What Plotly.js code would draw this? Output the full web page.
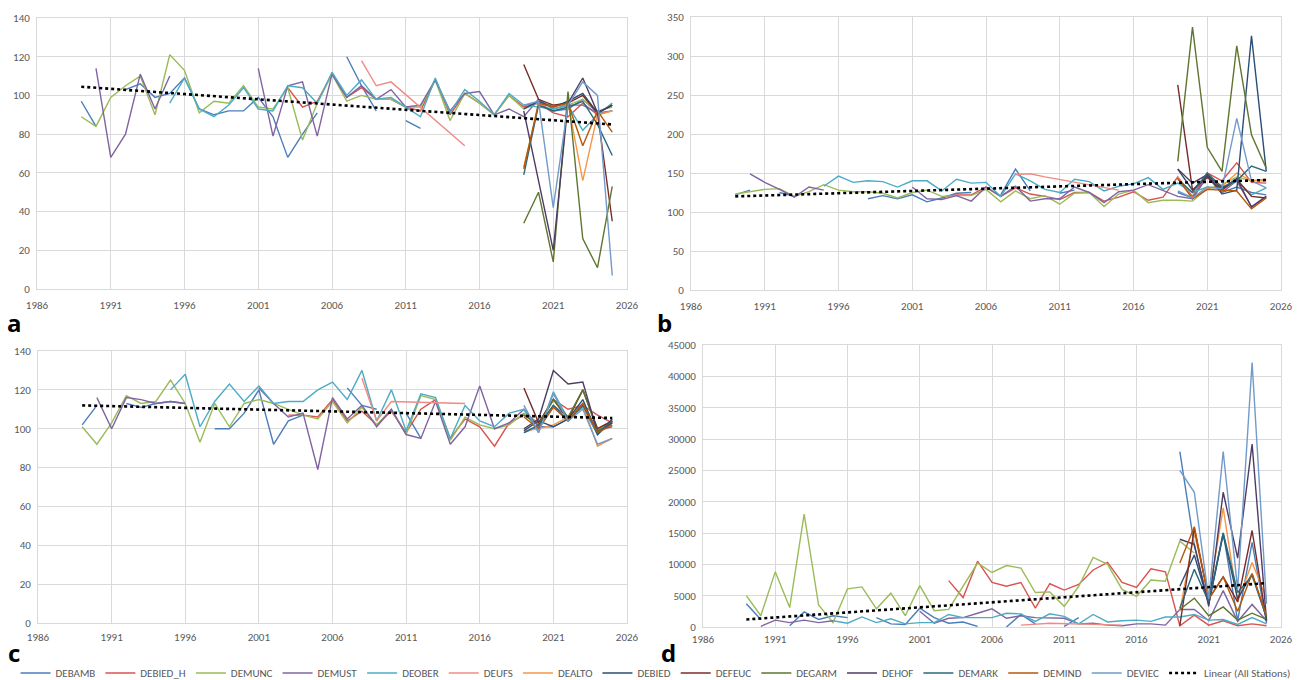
<!DOCTYPE html>
<html>
<head>
<meta charset="utf-8">
<script src="https://cdn.plot.ly/plotly-3.0.1.min.js"></script>
<style>html,body{margin:0;padding:0;background:#fff;}#chart{width:1297px;height:680px;}</style>
</head>
<body>
<div id="chart"></div>
<script>
const N = null;
// Years
const YEARS = [1989,1990,1991,1992,1993,1994,1995,1996,1997,1998,1999,2000,2001,2002,2003,2004,2005,2006,2007,2008,2009,2010,2011,2012,2013,2014,2015,2016,2017,2018,2019,2020,2021,2022,2023,2024,2025];
const LATE_YEARS = [2019,2020,2021,2022,2023,2024,2025];
const UFS_YEARS = [2008,2009,2010,2015];
const TREND_YEARS = [1989,2025];

const STATIONS = ['DEBAMB','DEBIED_H','DEMUNC','DEMUST','DEOBER','DEUFS','DEALTO','DEBIED','DEFEUC','DEGARM','DEHOF','DEMARK','DEMIND','DEVIEC'];
const TREND_NAME = 'Linear (All Stations)';
const PANEL_LABELS = ['a','b','c','d'];
const X_TICKS = [1986,1991,1996,2001,2006,2011,2016,2021,2026];

// ---------- Panel a ----------
const a_DEBAMB  = [97,84,N,103,106,99,101,109,93,90,92,92,99,89,68,80,91,N,120,105,92,N,87,83,N,N,N,N,N,N,95,96,92,93,98,91,92];
const a_DEBIED_H= [N,N,N,N,N,N,N,N,N,N,N,N,N,N,104,94,97,111,99,104,98,98,94,92,108,90,101,96,90,100,94,96,91,89,96,90,92];
const a_DEMUNC  = [89,84,99,105,110,90,121,113,91,97,96,105,94,93,104,77,96,111,97,100,98,98,94,94,108,87,101,96,90,100,93,96,95,95,98,92,94];
const a_DEMUST  = [N,114,68,80,111,93,110,N,N,N,N,N,114,79,105,107,79,111,99,105,98,103,94,95,108,92,101,102,90,93,89,98,93,95,95,91,95];
const a_DEOBER  = [N,N,N,N,N,N,96,109,93,89,95,104,93,92,105,104,96,112,100,108,98,99,94,89,109,91,103,97,90,101,95,94,93,95,82,90,96];
const a_DEUFS   = [118,105,107,74];
const a_DEALTO  = [63,95,95,96,56,90,92];
const a_DEBIED  = [93,97,94,97,101,91,95];
const a_DEFEUC  = [116,98,95,96,100,91,35];
const a_DEGARM  = [34,50,14,102,26,11,53];
const a_DEHOF   = [92,56,20,96,109,91,95];
const a_DEMARK  = [59,95,92,94,97,85,69];
const a_DEMIND  = [62,96,94,96,74,92,81];
const a_DEVIEC  = [95,97,42,95,107,100,7];
const a_TREND   = [104.5,85];

// ---------- Panel b ----------
const b_DEBAMB  = [122,128,N,125,120,N,N,N,N,117,121,117,122,113,118,124,125,N,122,155,127,N,124,128,N,N,N,N,N,N,125,118,148,125,132,125,122];
const b_DEBIED_H= [N,N,N,N,N,N,N,N,N,N,N,N,N,N,119,122,122,132,120,131,123,120,116,125,125,114,119,126,115,119,145,120,150,140,163,138,137];
const b_DEMUNC  = [123,126,129,130,120,126,135,128,126,126,124,118,125,128,120,121,121,129,113,127,117,121,110,124,125,107,123,128,112,115,115,114,130,135,145,140,140];
const b_DEMUST  = [N,149,138,129,119,132,128,N,N,N,N,N,132,117,116,121,114,132,120,133,114,117,117,132,125,112,126,128,135,128,120,117,145,125,140,107,120];
const b_DEOBER  = [N,N,N,N,N,N,133,146,138,140,139,132,140,140,127,142,137,138,120,149,140,129,125,142,139,127,133,136,144,129,137,125,132,130,140,122,131];
const b_DEUFS   = [148,149,145,128];
const b_DEALTO  = [145,118,130,133,150,140,142];
const b_DEBIED  = [155,128,147,123,128,326,152];
const b_DEFEUC  = [263,128,145,128,142,120,118];
const b_DEGARM  = [165,337,183,152,313,199,156];
const b_DEHOF   = [155,137,148,130,143,106,120];
const b_DEMARK  = [142,125,150,132,140,159,152];
const b_DEMIND  = [143,117,129,128,127,104,118];
const b_DEVIEC  = [127,118,132,130,220,140,131];
const b_TREND   = [120,141];

// ---------- Panel c ----------
const c_DEBAMB  = [102,112,N,113,111,113,114,113,N,100,100,108,120,92,104,107,N,N,121,112,110,N,108,95,N,N,N,N,N,N,98,101,101,105,112,97,104];
const c_DEBIED_H= [N,N,N,N,N,N,N,N,N,N,N,N,N,N,107,107,106,115,104,109,102,109,98,110,115,95,105,101,91,103,107,103,115,110,112,107,103];
const c_DEMUNC  = [101,92,103,117,113,114,125,113,93,113,101,113,115,113,110,107,105,114,103,111,102,110,97,117,115,94,106,102,100,102,108,103,115,105,120,100,104];
const c_DEMUST  = [N,116,100,116,115,113,114,113,N,N,N,N,121,113,106,108,79,116,105,112,101,110,97,95,114,92,101,122,100,103,110,101,112,106,113,99,101];
const c_DEOBER  = [N,N,N,N,N,N,120,128,101,114,123,114,122,113,114,114,120,124,115,130,104,120,99,118,116,95,112,104,101,108,110,98,119,105,111,97,104];
const c_DEUFS   = [126,104,114,113];
const c_DEALTO  = [99,100,102,106,112,91,95];
const c_DEBIED  = [99,104,101,105,115,97,105];
const c_DEFEUC  = [121,103,115,105,120,100,104];
const c_DEGARM  = [107,102,115,106,120,99,103];
const c_DEHOF   = [100,105,130,123,124,98,103];
const c_DEMARK  = [98,102,112,104,112,98,104];
const c_DEMIND  = [106,100,111,104,113,98,102];
const c_DEVIEC  = [112,98,118,104,110,92,95];
const c_TREND   = [112,105.5];

// ---------- Panel d ----------
const d_DEBAMB  = [3700,1200,N,200,2400,1200,1800,1500,N,1500,500,400,3000,1500,600,800,100,N,0,2000,500,N,100,1500,N,N,N,N,N,N,28000,13000,3700,15000,1000,13500,600];
const d_DEBIED_H= [N,N,N,N,N,N,N,N,N,N,N,N,N,N,7400,4700,10500,7100,6500,7100,3000,6900,5900,6800,9100,10300,7100,6300,9300,8800,200,1900,300,1000,200,500,200];
const d_DEMUNC  = [5000,1800,8800,3100,18000,3500,700,6100,6400,2900,5400,1800,6600,2600,2800,6500,10200,8700,9800,9400,5500,5600,3300,6500,11100,10000,6000,4900,7500,7300,13700,11800,N,N,N,N,N];
const d_DEMUST  = [N,100,1100,700,1100,700,1000,N,N,N,N,N,2500,600,1400,1500,2200,2900,1400,1800,1500,1400,1400,500,600,300,200,500,500,300,2800,2800,1000,5800,900,3600,1000];
const d_DEOBER  = [N,N,N,N,N,N,1000,600,1600,700,1300,500,700,700,2000,1500,1500,1500,2200,2100,900,2100,1700,500,2000,800,1000,1100,900,1600,1600,2000,1100,1200,400,1500,500];
const d_DEUFS   = [300,400,600,300];
const d_DEALTO  = [2500,15000,4800,19000,4000,10300,4500];
const d_DEBIED  = [6500,11500,3700,14800,4500,8500,1500];
const d_DEFEUC  = [200,15800,4500,8000,4000,15400,1000];
const d_DEGARM  = [2800,4600,1800,3200,1100,2200,1200];
const d_DEHOF   = [14000,13200,3300,21500,11000,29200,1000];
const d_DEMARK  = [3000,9200,4000,15000,5500,8200,1500];
const d_DEMIND  = [10200,16000,4500,8000,2500,8500,1800];
const d_DEVIEC  = [25000,21500,4500,28000,6000,42200,3700];
const d_TREND   = [1200,7000];

// ---------- styling ----------
const COLORS = {
  DEBAMB:'#4a7ebb', DEBIED_H:'#d9534f', DEMUNC:'#9bbb59', DEMUST:'#8064a2', DEOBER:'#4bacc6',
  DEUFS:'#f08a84', DEALTO:'#f79646', DEBIED:'#2c4d75', DEFEUC:'#772c2a', DEGARM:'#5f7530',
  DEHOF:'#4d3b62', DEMARK:'#276a7c', DEMIND:'#b65708', DEVIEC:'#729aca'
};
const FONT = "Carlito, 'Liberation Sans Narrow', 'Open Sans', sans-serif";

const PANELS = [
  {key:'a', data:{DEBAMB:a_DEBAMB,DEBIED_H:a_DEBIED_H,DEMUNC:a_DEMUNC,DEMUST:a_DEMUST,DEOBER:a_DEOBER,DEUFS:a_DEUFS,DEALTO:a_DEALTO,DEBIED:a_DEBIED,DEFEUC:a_DEFEUC,DEGARM:a_DEGARM,DEHOF:a_DEHOF,DEMARK:a_DEMARK,DEMIND:a_DEMIND,DEVIEC:a_DEVIEC}, trend:a_TREND},
  {key:'b', data:{DEBAMB:b_DEBAMB,DEBIED_H:b_DEBIED_H,DEMUNC:b_DEMUNC,DEMUST:b_DEMUST,DEOBER:b_DEOBER,DEUFS:b_DEUFS,DEALTO:b_DEALTO,DEBIED:b_DEBIED,DEFEUC:b_DEFEUC,DEGARM:b_DEGARM,DEHOF:b_DEHOF,DEMARK:b_DEMARK,DEMIND:b_DEMIND,DEVIEC:b_DEVIEC}, trend:b_TREND},
  {key:'c', data:{DEBAMB:c_DEBAMB,DEBIED_H:c_DEBIED_H,DEMUNC:c_DEMUNC,DEMUST:c_DEMUST,DEOBER:c_DEOBER,DEUFS:c_DEUFS,DEALTO:c_DEALTO,DEBIED:c_DEBIED,DEFEUC:c_DEFEUC,DEGARM:c_DEGARM,DEHOF:c_DEHOF,DEMARK:c_DEMARK,DEMIND:c_DEMIND,DEVIEC:c_DEVIEC}, trend:c_TREND},
  {key:'d', data:{DEBAMB:d_DEBAMB,DEBIED_H:d_DEBIED_H,DEMUNC:d_DEMUNC,DEMUST:d_DEMUST,DEOBER:d_DEOBER,DEUFS:d_DEUFS,DEALTO:d_DEALTO,DEBIED:d_DEBIED,DEFEUC:d_DEFEUC,DEGARM:d_DEGARM,DEHOF:d_DEHOF,DEMARK:d_DEMARK,DEMIND:d_DEMIND,DEVIEC:d_DEVIEC}, trend:d_TREND}
];

const W = 1297, H = 680;
// pixel boxes [left, right, top, bottom]
const BOXES = [[37,627,18,289],[691,1281,17,290],[38,627,351,623],[703,1281,345,627]];
const YRANGES = [[0,140,20],[0,350,50],[0,140,20],[0,45000,5000]];
const LABEL_POS = [[14,322],[664,322],[14,652],[668,652]];
const XLABEL_STANDOFF = [6,6,4,2];

const LATE = ['DEALTO','DEBIED','DEFEUC','DEGARM','DEHOF','DEMARK','DEMIND','DEVIEC'];
function xFor(name){
  if (name === 'DEUFS') return UFS_YEARS;
  if (LATE.indexOf(name) >= 0) return LATE_YEARS;
  return YEARS;
}

const traces = [];
const layout = {
  width: W, height: H,
  margin:{l:0,r:0,t:0,b:0,autoexpand:false},
  paper_bgcolor:'#ffffff', plot_bgcolor:'#ffffff',
  font:{family:FONT, size:11, color:'#595959'},
  showlegend:true,
  legend:{orientation:'h', x:0.012, xanchor:'left', y:1-673/H, yanchor:'middle',
          font:{family:FONT, size:11, color:'#595959'}, itemwidth:30, tracegroupgap:0,
          bgcolor:'rgba(0,0,0,0)'},
  annotations:[]
};

PANELS.forEach((p, i) => {
  const ax = i === 0 ? '' : String(i+1);
  const b = BOXES[i];
  const yr = YRANGES[i];
  layout['xaxis'+ax] = {
    domain:[b[0]/W, b[1]/W], range:[1986,2026], tickvals:X_TICKS, ticktext:X_TICKS.map(String),
    showgrid:true, gridcolor:'#d9d9d9', gridwidth:1, zeroline:false,
    showline:true, mirror:true, linecolor:'#d9d9d9', linewidth:1, ticks:'',
    tickfont:{family:FONT, size:11, color:'#595959'}, anchor:'y'+ax, fixedrange:true,
    automargin:false, ticklabelstandoff:XLABEL_STANDOFF[i]
  };
  layout['yaxis'+ax] = {
    domain:[1-b[3]/H, 1-b[2]/H], range:[yr[0],yr[1]], dtick:yr[2], tick0:0, tickformat:'d',
    showgrid:true, gridcolor:'#d9d9d9', gridwidth:1, zeroline:false,
    showline:true, mirror:true, linecolor:'#d9d9d9', linewidth:1, ticks:'',
    tickfont:{family:FONT, size:11, color:'#595959'}, anchor:'x'+ax, fixedrange:true,
    ticklabelstandoff:4, automargin:false
  };
  STATIONS.forEach(name => {
    traces.push({
      type:'scatter', mode:'lines', name:name, legendgroup:name, showlegend:i===0,
      x:xFor(name), y:p.data[name], xaxis:'x'+ax, yaxis:'y'+ax,
      line:{color:COLORS[name], width:1.4}, connectgaps:false, hoverinfo:'x+y+name'
    });
  });
  traces.push({
    type:'scatter', mode:'lines', name:TREND_NAME, legendgroup:'trend', showlegend:i===0,
    x:TREND_YEARS, y:p.trend, xaxis:'x'+ax, yaxis:'y'+ax,
    line:{color:'#000000', width:2.6, dash:'dot'}
  });
  layout.annotations.push({
    text:'<b>'+PANEL_LABELS[i]+'</b>', xref:'paper', yref:'paper',
    x:LABEL_POS[i][0]/W, y:1-LABEL_POS[i][1]/H, xanchor:'center', yanchor:'middle',
    showarrow:false, font:{family:"'Open Sans', sans-serif", size:24, color:'#000000'}
  });
});

Plotly.newPlot('chart', traces, layout, {staticPlot:true, displayModeBar:false});
</script>
</body>
</html>
